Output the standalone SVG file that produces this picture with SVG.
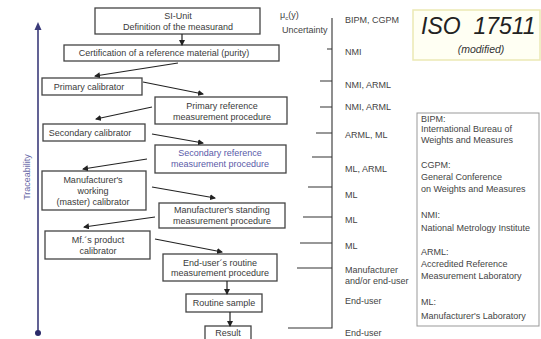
<svg xmlns="http://www.w3.org/2000/svg" width="541" height="339" viewBox="0 0 541 339">
<style>
.box{fill:#fff;stroke:#444;stroke-width:1.3}
.t{font-family:"Liberation Sans",Arial,sans-serif;font-size:9px;fill:#3a3a3a;text-anchor:middle}
.l{font-family:"Liberation Sans",Arial,sans-serif;font-size:9px;fill:#444}
.c{stroke:#222;stroke-width:1.2;fill:none}
.tk{stroke:#333;stroke-width:1.1;fill:none}
</style>
<defs>
<marker id="ah" markerWidth="6" markerHeight="6" refX="5" refY="3" orient="auto" markerUnits="userSpaceOnUse">
<path d="M0,0 L6,3 L0,6 z" fill="#222"/>
</marker>
</defs>
<rect width="541" height="339" fill="#fff"/>

<g id="axis">
<line x1="38" y1="28" x2="38" y2="333" stroke="#3b3b7a" stroke-width="1.6"/>
<path d="M34.5,30 L38,22 L41.5,30 z" fill="#3b3b7a"/>
<circle cx="38" cy="333" r="3" fill="#2b2b6a"/>
<text x="28" y="177" transform="rotate(-90 28 177)" style="font-family:'Liberation Sans',Arial,sans-serif;font-size:9px;fill:#6a6aa8;text-anchor:middle;dominant-baseline:middle">Traceability</text>
</g>

<g id="n-si"><rect class="box" x="95" y="8" width="165" height="26"/>
<text class="t" x="178" y="19">SI-Unit</text><text class="t" x="178" y="30">Definition of the measurand</text></g>
<g id="n-cert"><rect class="box" x="64" y="45" width="215" height="16"/>
<text class="t" x="164" y="56">Certification of a reference material (purity)</text></g>
<g id="n-pcal"><rect class="box" x="42" y="78" width="100" height="17"/>
<text class="t" x="89" y="90">Primary calibrator</text></g>
<g id="n-pref"><rect class="box" x="155" y="97" width="132" height="27"/>
<text class="t" x="222" y="109">Primary reference</text><text class="t" x="222" y="120">measurement procedure</text></g>
<g id="n-scal"><rect class="box" x="43" y="124" width="102" height="17"/>
<text class="t" x="90" y="136">Secondary calibrator</text></g>
<g id="n-sref"><rect class="box" x="155" y="145" width="131" height="28"/>
<text class="t" x="220" y="156" style="fill:#5a5aa8">Secondary reference</text><text class="t" x="220" y="167" style="fill:#5a5aa8">measurement procedure</text></g>
<g id="n-mwork"><rect class="box" x="42" y="171" width="104" height="39"/>
<text class="t" x="93" y="183">Manufacturer's</text><text class="t" x="93" y="194">working</text><text class="t" x="93" y="205">(master) calibrator</text></g>
<g id="n-mstand"><rect class="box" x="159" y="203" width="126" height="25"/>
<text class="t" x="222" y="213">Manufacturer's standing</text><text class="t" x="222" y="224">measurement procedure</text></g>
<g id="n-mprod"><rect class="box" x="45" y="231" width="105" height="28"/>
<text class="t" x="98" y="243">Mf.´s product</text><text class="t" x="98" y="254">calibrator</text></g>
<g id="n-euser"><rect class="box" x="163" y="254" width="114" height="27"/>
<text class="t" x="220" y="266">End-user´s routine</text><text class="t" x="220" y="276">measurement procedure</text></g>
<g id="n-rsample"><rect class="box" x="186" y="294" width="76" height="18"/>
<text class="t" x="224" y="306">Routine sample</text></g>
<g id="n-result"><rect class="box" x="205" y="326" width="46" height="20"/>
<text class="t" x="228" y="336">Result</text></g>

<g id="connectors">
<line class="c" x1="182" y1="34" x2="182" y2="45" marker-end="url(#ah)"/>
<line class="c" x1="178" y1="63" x2="95" y2="76" marker-end="url(#ah)"/>
<line class="c" x1="143" y1="82" x2="203" y2="94" marker-end="url(#ah)"/>
<line class="c" x1="152" y1="107" x2="96" y2="119" marker-end="url(#ah)"/>
<line class="c" x1="152" y1="134" x2="203" y2="143" marker-end="url(#ah)"/>
<line class="c" x1="147" y1="159" x2="83" y2="169" marker-end="url(#ah)"/>
<line class="c" x1="152" y1="187" x2="215" y2="198" marker-end="url(#ah)"/>
<line class="c" x1="155" y1="217" x2="84" y2="227" marker-end="url(#ah)"/>
<line class="c" x1="155" y1="239" x2="222" y2="252" marker-end="url(#ah)"/>
<line class="c" x1="227" y1="281" x2="227" y2="294" marker-end="url(#ah)"/>
<line class="c" x1="230" y1="312" x2="230" y2="326" marker-end="url(#ah)"/>
</g>

<g id="scale">
<path class="tk" d="M332,18 V328 H288"/>
<path class="tk" d="M327,49 H332 M320,81 H332 M320,107 H332 M316,133 H332 M312,157 H332 M308,187 H332 M303,217 H332 M300,243 H332 M297,268 H332"/>
<text class="l" x="280" y="18">μ<tspan font-size="6" dy="2">c</tspan><tspan dy="-2">(y)</tspan></text>
<text class="l" x="282" y="33">Uncertainty</text>
<text class="l" x="345" y="23">BIPM, CGPM</text>
<text class="l" x="345" y="55">NMI</text>
<text class="l" x="345" y="88">NMI, ARML</text>
<text class="l" x="345" y="110">NMI, ARML</text>
<text class="l" x="345" y="138">ARML, ML</text>
<text class="l" x="345" y="172">ML, ARML</text>
<text class="l" x="345" y="198">ML</text>
<text class="l" x="345" y="223">ML</text>
<text class="l" x="345" y="249">ML</text>
<text class="l" x="345" y="273">Manufacturer</text>
<text class="l" x="345" y="284">and/or end-user</text>
<text class="l" x="345" y="304">End-user</text>
<text class="l" x="345" y="336">End-user</text>
</g>

<g id="iso">
<rect x="413" y="10" width="127" height="50" fill="#fffff3" stroke="#ebe9b4" stroke-width="1.5"/>
<text x="421" y="34" style="font-family:'Liberation Sans',Arial,sans-serif;font-size:23px;font-style:italic;fill:#222" xml:space="preserve">ISO  17511</text>
<text x="481" y="53" style="font-family:'Liberation Sans',Arial,sans-serif;font-size:10.5px;font-style:italic;fill:#333;text-anchor:middle">(modified)</text>
</g>

<g id="legend">
<rect x="417" y="113" width="122" height="213" fill="#fff" stroke="#999" stroke-width="1"/>
<text class="l" x="421" y="122">BIPM:</text>
<text class="l" x="421" y="132">International Bureau of</text>
<text class="l" x="421" y="143">Weights and Measures</text>
<text class="l" x="421" y="168">CGPM:</text>
<text class="l" x="421" y="180">General Conference</text>
<text class="l" x="421" y="192">on Weights and Measures</text>
<text class="l" x="421" y="218">NMI:</text>
<text class="l" x="421" y="231">National Metrology Institute</text>
<text class="l" x="421" y="255">ARML:</text>
<text class="l" x="421" y="267">Accredited Reference</text>
<text class="l" x="421" y="279">Measurement Laboratory</text>
<text class="l" x="421" y="305">ML:</text>
<text class="l" x="421" y="319">Manufacturer's Laboratory</text>
</g>
</svg>
